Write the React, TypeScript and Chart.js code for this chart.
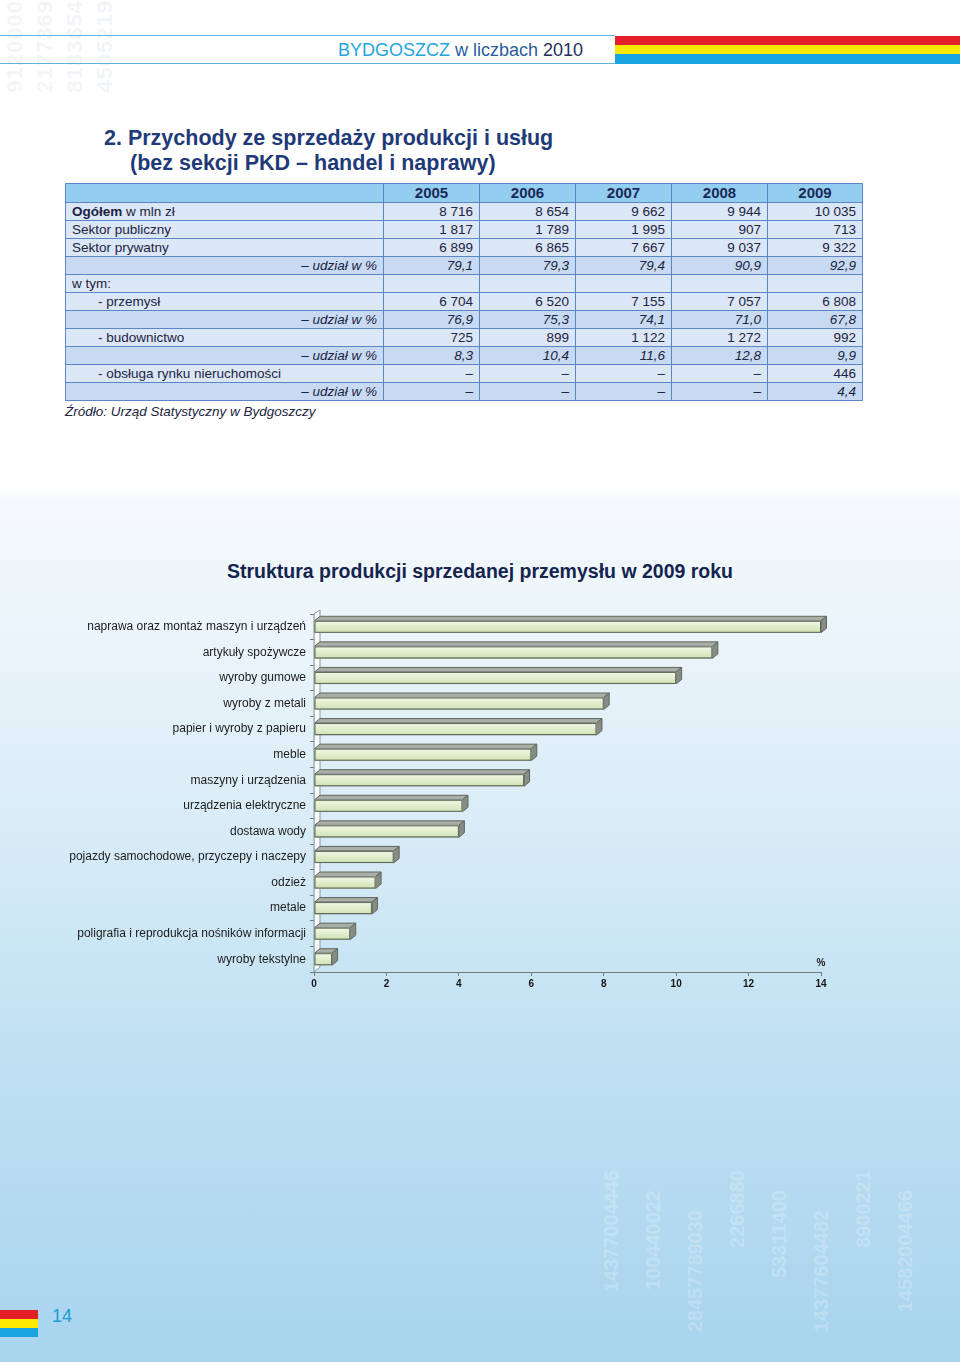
import React, { useEffect, useRef } from "react";
import { Chart, registerables } from "chart.js";

Chart.register(...registerables);

// ---------- table data ----------
const years = ["2005", "2006", "2007", "2008", "2009"];
const rowLabels = [
  "Ogółem",
  "Sektor publiczny",
  "Sektor prywatny",
  "– udział w %",
  "w tym:",
  "- przemysł",
  "– udział w %",
  "- budownictwo",
  "– udział w %",
  "- obsługa rynku nieruchomości",
  "– udział w %",
];
const rowKinds = ["total", "plain", "plain", "share", "plain", "sub", "share", "sub", "share", "sub", "share"];
const totalRow = ["8 716", "8 654", "9 662", "9 944", "10 035"];
const publicRow = ["1 817", "1 789", "1 995", "907", "713"];
const privateRow = ["6 899", "6 865", "7 667", "9 037", "9 322"];
const privateShare = ["79,1", "79,3", "79,4", "90,9", "92,9"];
const emptyRow = ["", "", "", "", ""];
const industryRow = ["6 704", "6 520", "7 155", "7 057", "6 808"];
const industryShare = ["76,9", "75,3", "74,1", "71,0", "67,8"];
const constructionRow = ["725", "899", "1 122", "1 272", "992"];
const constructionShare = ["8,3", "10,4", "11,6", "12,8", "9,9"];
const realEstateRow = ["–", "–", "–", "–", "446"];
const realEstateShare = ["–", "–", "–", "–", "4,4"];
const tableValues = [
  totalRow,
  publicRow,
  privateRow,
  privateShare,
  emptyRow,
  industryRow,
  industryShare,
  constructionRow,
  constructionShare,
  realEstateRow,
  realEstateShare,
];

// ---------- chart data ----------
const categories = [
  "naprawa oraz montaż maszyn i urządzeń",
  "artykuły spożywcze",
  "wyroby gumowe",
  "wyroby z metali",
  "papier i wyroby z papieru",
  "meble",
  "maszyny i urządzenia",
  "urządzenia elektryczne",
  "dostawa wody",
  "pojazdy samochodowe, przyczepy i naczepy",
  "odzież",
  "metale",
  "poligrafia i reprodukcja nośników informacji",
  "wyroby tekstylne",
];
const shares = [14.0, 11.0, 10.0, 8.0, 7.8, 6.0, 5.8, 4.1, 4.0, 2.2, 1.7, 1.6, 1.0, 0.5];
const xMin = 0;
const xMax = 14;
const xStep = 2;
const unitLabel = "%";

const SANS = '"Liberation Sans", Arial, Helvetica, sans-serif';
const AXIS = "#6e7c82";

const bar3d = {
  id: "bar3d",
  beforeDatasetsDraw(chart: any) {
    const { ctx, chartArea } = chart;
    const l = chartArea.left;
    const t = chartArea.top;
    const b = chartArea.bottom;
    ctx.save();
    ctx.beginPath();
    ctx.moveTo(l, t);
    ctx.lineTo(l + 6, t - 4);
    ctx.lineTo(l + 6, b - 5);
    ctx.lineTo(l, b);
    ctx.closePath();
    ctx.fillStyle = "rgba(255,255,255,0.8)";
    ctx.fill();
    ctx.strokeStyle = "#8a9699";
    ctx.lineWidth = 1;
    ctx.stroke();
    ctx.beginPath();
    ctx.moveTo(l - 4, t + 0.5);
    ctx.lineTo(l, t + 0.5);
    ctx.strokeStyle = AXIS;
    ctx.stroke();
    ctx.restore();
  },
  afterDatasetsDraw(chart: any) {
    const { ctx, chartArea } = chart;
    const meta = chart.getDatasetMeta(0);
    const dx = 5.5;
    const dy = 4.5;
    ctx.save();
    ctx.lineWidth = 1;
    ctx.lineJoin = "round";
    meta.data.forEach((el: any) => {
      const { x, y, base, height } = el.getProps(["x", "y", "base", "height"], true);
      const t = y - height / 2;
      const b = y + height / 2;
      const s = Math.min(base, x);
      const e = Math.max(base, x);
      // top face
      ctx.beginPath();
      ctx.moveTo(s, t);
      ctx.lineTo(s + dx, t - dy);
      ctx.lineTo(e + dx, t - dy);
      ctx.lineTo(e, t);
      ctx.closePath();
      ctx.fillStyle = "#a9aea6";
      ctx.fill();
      ctx.strokeStyle = "#5f665d";
      ctx.stroke();
      // side face
      ctx.beginPath();
      ctx.moveTo(e, t);
      ctx.lineTo(e + dx, t - dy);
      ctx.lineTo(e + dx, b - dy);
      ctx.lineTo(e, b);
      ctx.closePath();
      ctx.fillStyle = "#878c85";
      ctx.fill();
      ctx.stroke();
      // front face
      const g = ctx.createLinearGradient(0, t, 0, b);
      g.addColorStop(0, "#f2f8e6");
      g.addColorStop(0.45, "#e2efcf");
      g.addColorStop(1, "#cfe2b3");
      ctx.fillStyle = g;
      ctx.fillRect(s, t, e - s, b - t);
      ctx.strokeStyle = "#5b6359";
      ctx.strokeRect(s + 0.5, t + 0.5, e - s - 1, b - t - 1);
    });
    // unit label
    ctx.fillStyle = "#1a1a1a";
    ctx.font = `bold 10px ${SANS}`;
    ctx.textAlign = "center";
    ctx.textBaseline = "middle";
    ctx.fillText(unitLabel, chartArea.right, chartArea.bottom - 9);
    ctx.restore();
  },
};

function BarChart() {
  const ref = useRef<HTMLCanvasElement | null>(null);
  useEffect(() => {
    if (!ref.current) return;
    const chart = new Chart(ref.current, {
      type: "bar",
      data: {
        labels: categories,
        datasets: [
          {
            data: shares,
            backgroundColor: "#dcebc6",
            borderColor: "#5b6359",
            borderWidth: 1,
            barThickness: 12,
            borderSkipped: false,
          },
        ],
      },
      options: {
        indexAxis: "y",
        responsive: false,
        maintainAspectRatio: false,
        animation: false,
        events: [],
        layout: { padding: { top: 24, right: 139, left: 0, bottom: 0 } },
        plugins: { legend: { display: false }, tooltip: { enabled: false }, title: { display: false } },
        scales: {
          x: {
            type: "linear",
            min: xMin,
            max: xMax,
            ticks: {
              stepSize: xStep,
              color: "#151515",
              font: { family: SANS, size: 10, weight: "bold" },
              padding: 2,
              maxRotation: 0,
            },
            grid: { drawOnChartArea: false, drawTicks: true, tickLength: 4, color: AXIS },
            border: { color: AXIS, width: 1 },
            afterFit: (s: any) => {
              s.height = 38;
            },
          },
          y: {
            type: "category",
            offset: true,
            ticks: {
              color: "#1c1c1c",
              font: { family: SANS, size: 12 },
              padding: 4,
              autoSkip: false,
            },
            grid: { drawOnChartArea: false, drawTicks: true, tickLength: 4, color: AXIS, offset: true },
            border: { color: AXIS, width: 1 },
            afterFit: (s: any) => {
              s.width = 314;
            },
          },
        },
      },
      plugins: [bar3d],
    } as any);
    return () => chart.destroy();
  }, []);
  return <canvas ref={ref} width={960} height={420} style={{ position: "absolute", left: 0, top: 590, width: 960, height: 420 }} />;
}

const decoTop = ["9120000", "2177369", "8183654", "4505219"];
const decoBottom = ["14377004446", "100440022", "28457789030", "2266880", "53311400", "14377604482", "8900221", "14582004466"];

export default function App() {
  const cellBorder = "1px solid #5a86c6";
  return (
    <div
      style={{
        position: "absolute",
        left: 0,
        top: 0,
        width: 960,
        height: 1362,
        overflow: "hidden",
        fontFamily: SANS,
        background:
          "linear-gradient(to bottom, #ffffff 0px, #ffffff 488px, #f4f9fc 500px, #eaf4fa 640px, #d9ecf7 820px, #c5e3f3 1000px, #b4daf0 1200px, #a8d4ee 1362px)",
      }}
    >
      {/* decorative digits */}
      {decoTop.map((d, i) => (
        <div
          key={"t" + i}
          style={{
            position: "absolute",
            left: 2 + i * 30,
            top: 0,
            writingMode: "vertical-rl",
            transform: "rotate(180deg)",
            fontSize: 22,
            fontWeight: "bold",
            color: "rgba(150,180,210,0.13)",
            letterSpacing: 1,
          }}
        >
          {d}
        </div>
      ))}
      {decoBottom.map((d, i) => (
        <div
          key={"b" + i}
          style={{
            position: "absolute",
            left: 600 + i * 42,
            top: 1170 + (i % 3) * 20,
            writingMode: "vertical-rl",
            transform: "rotate(180deg)",
            fontSize: 20,
            fontWeight: "bold",
            color: "rgba(255,255,255,0.22)",
          }}
        >
          {d}
        </div>
      ))}

      {/* header */}
      <div style={{ position: "absolute", left: 0, top: 35, width: 615, height: 1, background: "#5fb3dc" }} />
      <div style={{ position: "absolute", left: 0, top: 63, width: 615, height: 1, background: "#5fb3dc" }} />
      <div style={{ position: "absolute", left: 615, top: 36, width: 345, height: 9, background: "#e3202a" }} />
      <div style={{ position: "absolute", left: 615, top: 45, width: 345, height: 9, background: "#fde800" }} />
      <div style={{ position: "absolute", left: 615, top: 54, width: 345, height: 10, background: "#17a4e0" }} />
      <div
        style={{
          position: "absolute",
          right: 960 - 583,
          top: 39,
          fontSize: 18,
          lineHeight: "22px",
          whiteSpace: "nowrap",
        }}
      >
        <span style={{ color: "#24a5dc" }}>BYDGOSZCZ</span>
        <span style={{ color: "#2a5c9c" }}> w liczbach </span>
        <span style={{ color: "#1d2f60" }}>2010</span>
      </div>

      {/* section title */}
      <div
        style={{
          position: "absolute",
          left: 104,
          top: 126,
          fontSize: 21.5,
          fontWeight: "bold",
          lineHeight: "25px",
          color: "#1f3a78",
          whiteSpace: "nowrap",
        }}
      >
        <div>2. Przychody ze sprzedaży produkcji i usług</div>
        <div style={{ paddingLeft: 26 }}>(bez sekcji PKD – handel i naprawy)</div>
      </div>

      {/* table */}
      <table
        style={{
          position: "absolute",
          left: 65,
          top: 183,
          width: 797,
          borderCollapse: "collapse",
          tableLayout: "fixed",
          fontSize: 13.5,
          color: "#1b2442",
        }}
      >
        <colgroup>
          <col style={{ width: 318 }} />
          <col style={{ width: 96 }} />
          <col style={{ width: 96 }} />
          <col style={{ width: 96 }} />
          <col style={{ width: 96 }} />
          <col style={{ width: 95 }} />
        </colgroup>
        <thead>
          <tr style={{ height: 19, background: "#93cdf0" }}>
            <th style={{ border: cellBorder, padding: 0 }} />
            {years.map((y) => (
              <th
                key={y}
                style={{
                  border: cellBorder,
                  padding: 0,
                  textAlign: "center",
                  fontSize: 15,
                  fontWeight: "bold",
                  color: "#1b2a55",
                  lineHeight: "18px",
                }}
              >
                {y}
              </th>
            ))}
          </tr>
        </thead>
        <tbody>
          {rowLabels.map((label, r) => {
            const kind = rowKinds[r];
            const isShare = kind === "share";
            return (
              <tr key={r} style={{ height: 18, background: isShare ? "#c8daf2" : "#dbe6f6" }}>
                <td
                  style={{
                    border: cellBorder,
                    padding: isShare ? "0 6px 0 0" : kind === "sub" ? "0 0 0 32px" : "0 0 0 6px",
                    textAlign: isShare ? "right" : "left",
                    fontStyle: isShare ? "italic" : "normal",
                    lineHeight: "17px",
                    whiteSpace: "nowrap",
                  }}
                >
                  {kind === "total" ? (
                    <>
                      <b>{label}</b> w mln zł
                    </>
                  ) : (
                    label
                  )}
                </td>
                {tableValues[r].map((v, c) => (
                  <td
                    key={c}
                    style={{
                      border: cellBorder,
                      padding: "0 6px 0 0",
                      textAlign: "right",
                      fontStyle: isShare ? "italic" : "normal",
                      lineHeight: "17px",
                      whiteSpace: "nowrap",
                    }}
                  >
                    {v}
                  </td>
                ))}
              </tr>
            );
          })}
        </tbody>
      </table>
      <div
        style={{
          position: "absolute",
          left: 65,
          top: 404,
          fontSize: 13.5,
          fontStyle: "italic",
          color: "#1b2442",
          whiteSpace: "nowrap",
        }}
      >
        Źródło: Urząd Statystyczny w Bydgoszczy
      </div>

      {/* chart title */}
      <div
        style={{
          position: "absolute",
          left: 0,
          width: 960,
          top: 560,
          textAlign: "center",
          fontSize: 19.5,
          fontWeight: "bold",
          color: "#14244f",
          whiteSpace: "nowrap",
        }}
      >
        Struktura produkcji sprzedanej przemysłu w 2009 roku
      </div>

      <BarChart />

      {/* footer */}
      <div style={{ position: "absolute", left: 0, top: 1310, width: 38, height: 9, background: "#e3202a" }} />
      <div style={{ position: "absolute", left: 0, top: 1319, width: 38, height: 9, background: "#fde800" }} />
      <div style={{ position: "absolute", left: 0, top: 1328, width: 38, height: 9, background: "#17a4e0" }} />
      <div style={{ position: "absolute", left: 52, top: 1306, fontSize: 18, color: "#1e9bd7" }}>14</div>
    </div>
  );
}
